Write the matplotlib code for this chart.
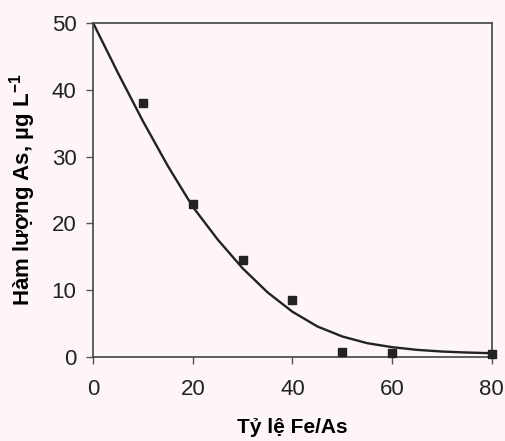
import matplotlib
matplotlib.use('Agg')
from matplotlib import pyplot as plt

# measured points
ratio = [10, 20, 30, 40, 50, 60, 80]
arsenic = [38.0, 22.9, 14.5, 8.6, 0.8, 0.65, 0.5]

# fitted curve, every 5 units
curve_x = [0, 5, 10, 15, 20, 25, 30, 35, 40, 45, 50, 55, 60, 65, 70, 75, 80]
curve_y = [50, 42.5, 35.3, 28.6, 22.5, 17.6, 13.3, 9.7, 6.8, 4.6, 3.1, 2.1, 1.5, 1.1, 0.85, 0.7, 0.6]

xticks = [0, 20, 40, 60, 80]
yticks = [0, 10, 20, 30, 40, 50]

plt.rcParams['font.family'] = ['Liberation Sans', 'DejaVu Sans']
plt.rcParams['mathtext.fontset'] = 'custom'
plt.rcParams['mathtext.rm'] = 'Liberation Sans'
plt.rcParams['mathtext.bf'] = 'Liberation Sans:bold'

bg = '#fdf5f6'
fig = plt.figure(figsize=(5.06, 4.41), dpi=100, facecolor=bg)
ax = fig.add_axes([0.184, 0.190, 0.788, 0.758], facecolor=bg)

ax.plot(curve_x, curve_y, color='#222222', lw=1.7, zorder=2)
ax.plot(ratio, arsenic, 's', color='#222222', markersize=6, zorder=3, clip_on=False)

ax.set_xlim(0, 80)
ax.set_ylim(0, 50)
ax.set_xticks(xticks)
ax.set_yticks(yticks)
ax.tick_params(direction='out', length=5, width=1, color='#555555',
               labelsize=16, labelcolor='#222222')
ax.tick_params(axis='x', pad=11)
ax.tick_params(axis='y', pad=7)
for s in ax.spines.values():
    s.set_color('#444444')
    s.set_linewidth(1.2)

ax.set_xlabel('Tỷ lệ Fe/As', fontsize=15, fontweight='bold', labelpad=13)
ax.set_ylabel(r'Hàm lượng As, µg L$^{\mathbf{-1}}$', fontsize=16, fontweight='bold', labelpad=10)

fig.savefig('out.png', dpi=100, facecolor=bg)
